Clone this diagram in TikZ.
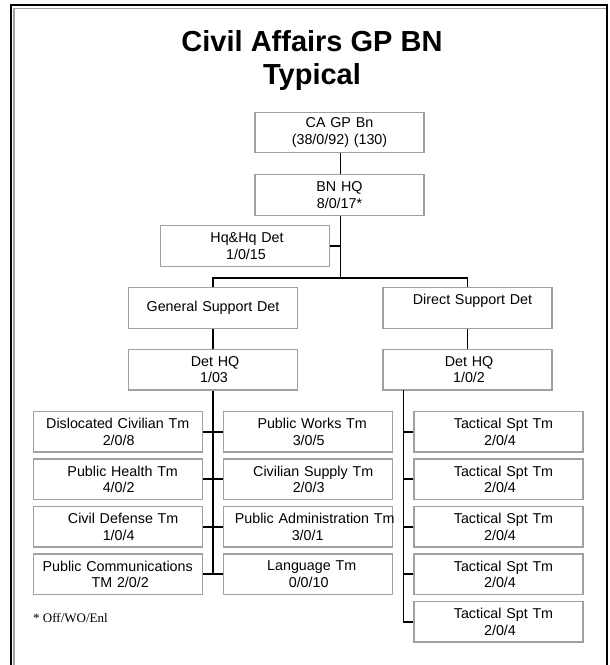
\documentclass[tikz,border=0pt]{standalone}
\usepackage{fontspec}
\setmainfont{Liberation Sans}
\newfontfamily\notefont{Liberation Serif}
\definecolor{boxgray}{HTML}{A0A0A0}
\begin{document}
\begin{tikzpicture}[x=1pt,y=-1pt,
  unit/.style={draw=boxgray, line width=1.4pt, fill=white,
    minimum width=169pt, minimum height=40.5pt, inner sep=0pt,
    text width=169pt, align=center,
    font=\fontsize{14.3}{16.5}\selectfont},
  link/.style={line width=1.9pt, black},
  frameline/.style={line width=1.6pt, black},
  bevel/.style={line width=1.4pt, boxgray}]
\useasboundingbox (0,0) rectangle (610,665);

% outer frame with light inner bevel on top and left
\draw[frameline] (10.7,665) -- (10.7,4.7) -- (607,4.7) -- (607,665);
\draw[bevel] (14,665) -- (14,8.7) -- (606,8.7);

% title
\node (title) at (312,60) [align=center,
  font=\bfseries\fontsize{29}{33}\selectfont]
  {Civil Affairs GP BN\\Typical};

% command levels
\node[unit] (ca)   at (339.5,132.5) {CA GP Bn\\(38/0/92) (130)};
\node[unit] (bnhq) at (339.5,195)   {BN HQ\\8/0/17*};
\node[unit] (hhd)  at (245,246)     {\hspace*{4pt}Hq\&Hq Det\\\hspace*{2pt}1/0/15};
\node[unit] (gsd)  at (213,308)     {General Support Det\hspace*{9pt}};
\node[unit] (dsd)  at (467.5,308)   {\hspace*{10pt}Direct Support Det\\\mbox{}};
\node[unit] (dhql) at (213,369.7)   {\hspace*{4pt}Det HQ\\\hspace*{2pt}1/03};
\node[unit] (dhqr) at (467.5,369.7) {\hspace*{3pt}Det HQ\\\hspace*{3pt}1/0/2};

% general support teams, left column
\node[unit] (dct) at (117.7,431.7) {Dislocated Civilian Tm\hspace*{6pt}\\\hspace*{2pt}2/0/8};
\node[unit] (pht) at (117.7,479.2) {\hspace*{10pt}Public Health Tm\\\hspace*{2pt}4/0/2};
\node[unit] (cdt) at (117.7,526.7) {\hspace*{11pt}Civil Defense Tm\\\hspace*{2pt}1/0/4};
\node[unit] (pct) at (117.7,574.2) {Public Communications\hspace*{9pt}\\\hspace*{5pt}TM 2/0/2};

% general support teams, middle column
\node[unit] (pwt) at (307.7,431.7) {\hspace*{9pt}Public Works Tm\\\hspace*{2pt}3/0/5};
\node[unit] (cst) at (307.7,479.2) {\hspace*{11pt}Civilian Supply Tm\\\hspace*{2pt}2/0/3};
\node[unit] (pat) at (307.7,526.7)
  {\makebox[169pt][c]{\hspace*{14pt}Public Administration Tm}\\3/0/1};
\node[unit] (lgt) at (307.7,574.2) {\hspace*{8pt}Language Tm\\\hspace*{2pt}0/0/10};

% direct support teams, right column
\node[unit] (ts1) at (498.5,431.7) {\hspace*{10pt}Tactical Spt Tm\\\hspace*{3pt}2/0/4};
\node[unit] (ts2) at (498.5,479.2) {\hspace*{10pt}Tactical Spt Tm\\\hspace*{3pt}2/0/4};
\node[unit] (ts3) at (498.5,526.7) {\hspace*{10pt}Tactical Spt Tm\\\hspace*{3pt}2/0/4};
\node[unit] (ts4) at (498.5,574.2) {\hspace*{10pt}Tactical Spt Tm\\\hspace*{3pt}2/0/4};
\node[unit] (ts5) at (498.5,621.7) {\hspace*{10pt}Tactical Spt Tm\\\hspace*{3pt}2/0/4};

% footnote
\node (note) at (33,618) [anchor=west, inner sep=0pt,
  font=\notefont\fontsize{13}{15}\selectfont] {* Off/WO/Enl};

% connector junctions
\coordinate (spine) at (340.5,277.7);
\coordinate (rbus)  at (403.5,390);

% main spine and branch to the two detachments
\draw[link] (ca.south -| spine) -- (bnhq.north -| spine);
\draw[link] (bnhq.south -| spine) -- (spine);
\draw[link] (hhd.east) -- (hhd.east -| spine);
\draw[link] (gsd.north) -- (gsd.north |- spine) -- (dsd.north |- spine) -- (dsd.north);
\draw[link] (gsd.south) -- (dhql.north);
\draw[link] (dsd.south) -- (dhqr.north);

% general support bus and its teams
\draw[link] (dhql.south) -- (dhql.south |- pct.east);
\draw[link] (dct.east) -- (pwt.west);
\draw[link] (pht.east) -- (cst.west);
\draw[link] (cdt.east) -- (pat.west);
\draw[link] (pct.east) -- (lgt.west);

% direct support bus and its teams
\draw[link] (rbus) -- (rbus |- ts5.west) -- (ts5.west);
\draw[link] (ts1.west) -- (ts1.west -| rbus);
\draw[link] (ts2.west) -- (ts2.west -| rbus);
\draw[link] (ts3.west) -- (ts3.west -| rbus);
\draw[link] (ts4.west) -- (ts4.west -| rbus);
\end{tikzpicture}
\end{document}
